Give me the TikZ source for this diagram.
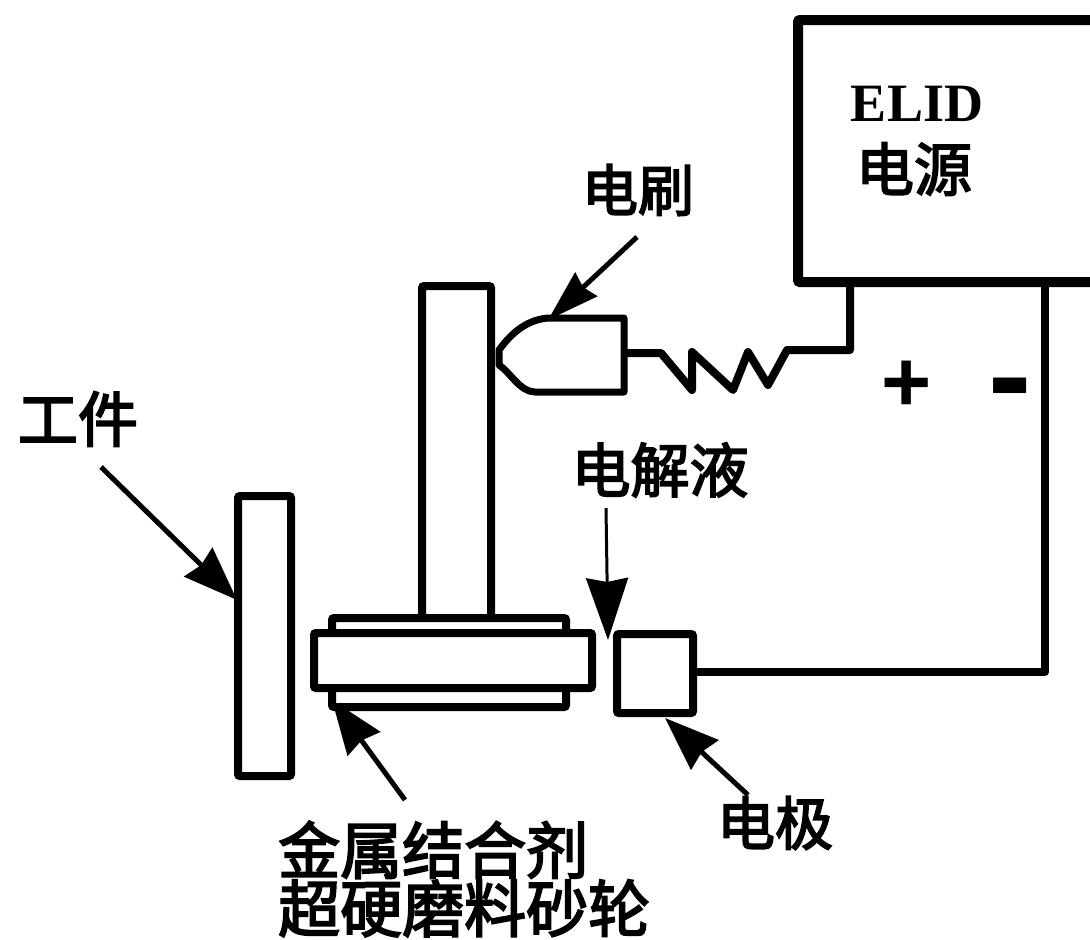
\documentclass[tikz,border=0pt]{standalone}
\usepackage{fontspec}
\setmainfont{Liberation Serif}
\newfontfamily\cjk{Noto Sans CJK SC}[FakeBold=3]
\newfontfamily\signs{Liberation Sans}
\usetikzlibrary{positioning, arrows.meta}
\definecolor{inkdark}{RGB}{0, 0, 0}
\tikzset{
  % Drawn parts
  part/.style={
    rectangle, draw=inkdark, line width=8pt, fill=white,
    inner sep=0pt, outer sep=0pt, rounded corners=2pt
  },
  % Printed labels
  lbl/.style={font=\fontsize{58pt}{58pt}\selectfont\cjk, text=inkdark, align=left, inner sep=0pt},
  % Leader arrows
  arr/.style={-{Stealth[length=54pt,width=40pt,inset=4pt]}, line width=5pt, color=inkdark},
  narrowarr/.style={-{Stealth[length=52pt,width=32pt,inset=4pt]}, line width=5pt, color=inkdark},
  thinarr/.style={-{Stealth[length=62pt,width=42pt,inset=4pt]}, line width=3pt, color=inkdark},
  wire/.style={line width=8pt, color=inkdark, line join=round},
}
\begin{document}
\begin{tikzpicture}[x=1pt, y=-1pt]
  \useasboundingbox (0,0) rectangle (1090,940);
  % power supply
  \node[part, line width=10pt, minimum width=320pt, minimum height=262pt, anchor=north west] (psu) at (798,20) {};
  \node[lbl, font=\fontsize{54pt}{54pt}\selectfont\rmfamily\bfseries] (elid) at (917,104) {ELID};
  \node[lbl] (src) at (914,169) {电源};
  % wheel and spindle
  \node[part, minimum width=69pt, minimum height=332pt, anchor=north west] (shaft) at (422,286) {};
  \node[part, minimum width=234pt, minimum height=89pt, anchor=north west] (rim) at (332,618) {};
  \node[part, minimum width=278pt, minimum height=55pt, anchor=north west] (wheel) at (314,633) {};
  \node[part, minimum width=53pt, minimum height=280pt, anchor=north west] (work) at (238,496) {};
  \node[part, minimum width=76pt, minimum height=79pt, anchor=north west] (elec) at (617,634) {};
  % brush
  \coordinate (brushr) at (624,353);
  \draw[wire, line width=7pt, fill=white] (624,318) -- (548,318) .. controls (525,320) and (510,335) .. (499,350)
    -- (499,365) .. controls (510,372) and (520,392) .. (535,392) -- (624,392) -- cycle;
  % wires
  \coordinate (b1) at (850,284);
  \coordinate (b2) at (850,350);
  \coordinate (c1) at (1045,284);
  \coordinate (c2) at (1045,672);
  \draw[wire] (b1) -- (b2) -- (787,350) -- (768,385) -- (748,352) -- (733,390) -- (692,352) -- (692,390) -- (661,353) -- (brushr);
  \draw[wire] (c1) -- (c2) -- (elec.east |- c2);
  % signs
  \node[lbl, font=\fontsize{86pt}{86pt}\selectfont\signs\bfseries] (plus) at (907,386) {+};
  \node[lbl, font=\fontsize{130pt}{130pt}\selectfont\signs\bfseries] (minus) at (1010,399) {-};
  % labels
  \node[lbl, font=\fontsize{56pt}{56pt}\selectfont\cjk] (brushl) at (638,190) {电刷};
  \node[lbl, font=\fontsize{60pt}{60pt}\selectfont\cjk] (workl) at (78,419) {工件};
  \node[lbl, font=\fontsize{59pt}{59pt}\selectfont\cjk] (liquid) at (660,470) {电解液};
  \node[lbl] (elecl) at (775,823) {电极};
  \node[lbl, font=\fontsize{62pt}{56pt}\selectfont\cjk, anchor=west] (wheell) at (278,879) {金属结合剂\\超硬磨料砂轮};
  % leaders
  \coordinate (a1) at (637,237);
  \coordinate (a2) at (548,320);
  \draw[narrowarr] (a1) -- (a2);
  \coordinate (w1) at (101,467);
  \coordinate (w2) at (237,600);
  \draw[arr] (w1) -- (w2);
  \coordinate (l1) at (606,508);
  \coordinate (l2) at (608,640);
  \draw[thinarr] (l1) -- (l2);
  \coordinate (e1) at (748,795);
  \coordinate (e2) at (665,718);
  \draw[arr] (e1) -- (e2);
  \coordinate (g1) at (405,800);
  \coordinate (g2) at (332,700);
  \draw[arr] (g1) -- (g2);
\end{tikzpicture}
\end{document}
